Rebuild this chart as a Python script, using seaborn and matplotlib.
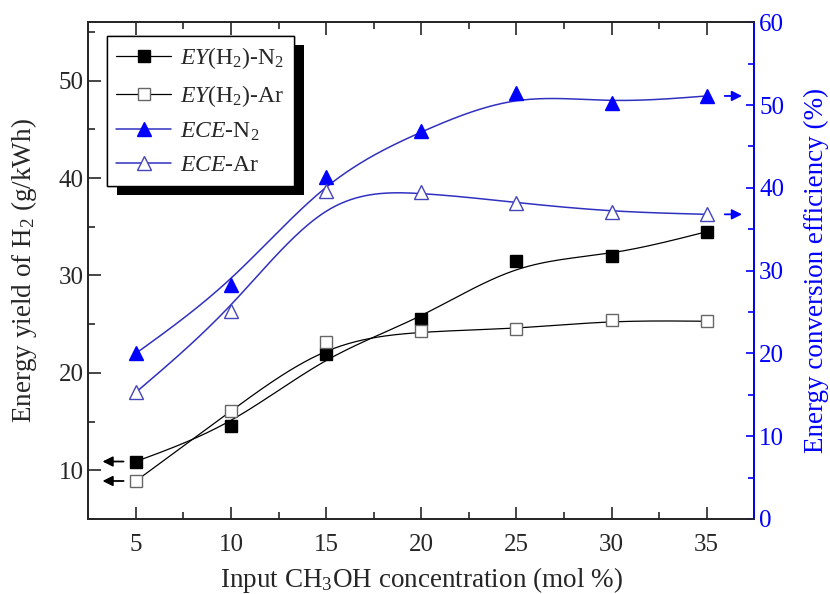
import numpy as np
import matplotlib
matplotlib.use("Agg")
import matplotlib.pyplot as plt
import matplotlib.patheffects as pe
from matplotlib.lines import Line2D
from matplotlib.ticker import MultipleLocator
import seaborn as sns

# values
conc = [5, 10, 15, 20, 25, 30, 35]
ey_n2 = [10.9, 14.5, 21.9, 25.5, 31.5, 32.0, 34.5]
ey_ar = [8.9, 16.1, 23.2, 24.3, 24.5, 25.4, 25.3]
ece_n2 = [20.0, 28.3, 41.3, 46.9, 51.5, 50.2, 51.1]
ece_ar = [15.3, 25.1, 39.6, 39.5, 38.2, 37.1, 36.8]

BLUE = "#0000ff"
BLUE_LINE = "#3030c0"


def bspline(x, y, n=40):
    """uniform cubic B-spline through the end points (Origin style smoothing)"""
    p = np.column_stack([x, y]).astype(float)
    p = np.vstack([2 * p[0] - p[1], p, 2 * p[-1] - p[-2]])
    t = np.linspace(0, 1, n)
    b = [(1 - t) ** 3 / 6,
         (3 * t ** 3 - 6 * t ** 2 + 4) / 6,
         (-3 * t ** 3 + 3 * t ** 2 + 3 * t + 1) / 6,
         t ** 3 / 6]
    segs = [sum(np.outer(b[k], p[i + k]) for k in range(4)) for i in range(len(p) - 3)]
    out = np.vstack(segs)
    return out[:, 0], out[:, 1]


sns.set_style("ticks")
plt.rcParams["font.family"] = ["Liberation Serif", "DejaVu Serif"]
plt.rcParams["mathtext.fontset"] = "custom"
plt.rcParams["mathtext.rm"] = "Liberation Serif"
plt.rcParams["mathtext.it"] = "Liberation Serif:italic"

fig = plt.figure(figsize=(8.3, 5.94), dpi=100)
ax = fig.add_axes([0.1064, 0.1263, 0.8024, 0.8362])
ax2 = ax.twinx()

# energy yield (left)
for y, face in [(ey_n2, "black"), (ey_ar, "white")]:
    sx, sy = bspline(conc, y)
    sns.lineplot(x=sx, y=sy, ax=ax, sort=False, color="black", lw=0.9, estimator=None)
    ax.plot(conc, y, ls="none", marker="s", ms=8, mfc=face,
            mec="black" if face == "black" else "#666666", mew=1, zorder=5)

# energy conversion efficiency (right)
for y, face in [(ece_n2, BLUE), (ece_ar, "white")]:
    sx, sy = bspline(conc, y)
    sns.lineplot(x=sx, y=sy, ax=ax2, sort=False, color=BLUE_LINE, lw=1.1, estimator=None)
    ax2.plot(conc, y, ls="none", marker="^", ms=10, mfc=face,
             mec=BLUE if face == BLUE else "#4444bb", mew=1, zorder=5)

ax.set_xlim(2.5, 37.5)
ax.set_ylim(5, 56)
ax2.set_ylim(0, 60)

ax.xaxis.set_major_locator(MultipleLocator(5))
ax.xaxis.set_minor_locator(MultipleLocator(2.5))
ax.yaxis.set_major_locator(MultipleLocator(10))
ax.yaxis.set_minor_locator(MultipleLocator(5))
ax2.yaxis.set_major_locator(MultipleLocator(10))
ax2.yaxis.set_minor_locator(MultipleLocator(5))

ax.tick_params(axis="x", which="both", direction="in", top=True, labelsize=18, pad=11)
ax.tick_params(axis="y", which="both", direction="in", right=False, labelsize=18)
ax.tick_params(which="major", length=9, width=1.2)
ax.tick_params(which="minor", length=5, width=1.2)
ax2.tick_params(axis="y", which="both", direction="in", colors=BLUE, labelsize=18, width=1.2)
ax2.tick_params(which="major", length=6)
ax2.tick_params(which="minor", length=4)

for s in ax.spines.values():
    s.set_linewidth(1.3)
for s in ax2.spines.values():
    s.set_linewidth(1.3)
ax2.spines["right"].set_color(BLUE)

ax.set_xlabel("Input CH$_3$OH concentration (mol %)", fontsize=19.5, labelpad=6)
ax.set_ylabel("Energy yield of H$_2$ (g/kWh)", fontsize=19.5, labelpad=14)
ax2.set_ylabel("Energy conversion efficiency (%)", fontsize=19.5, color=BLUE, labelpad=14)

# arrows pointing to the matching axis
arrow_k = dict(arrowstyle="-|>", color="black", lw=1.3, mutation_scale=15)
for y in (ey_n2[0], ey_ar[0]):
    ax.annotate("", xy=(3.1, y), xytext=(4.5, y), arrowprops=arrow_k)
arrow_b = dict(arrowstyle="-|>", color=BLUE, lw=1.3, mutation_scale=15)
for y in (ece_n2[-1], ece_ar[-1]):
    ax2.annotate("", xy=(37.0, y), xytext=(35.8, y), arrowprops=arrow_b)

handles = [
    Line2D([], [], color="black", lw=0.9, marker="s", ms=8, mfc="black", mec="black"),
    Line2D([], [], color="black", lw=0.9, marker="s", ms=8, mfc="white", mec="#666666"),
    Line2D([], [], color=BLUE_LINE, lw=1.1, marker="^", ms=10, mfc=BLUE, mec=BLUE),
    Line2D([], [], color=BLUE_LINE, lw=1.1, marker="^", ms=10, mfc="white", mec="#4444bb"),
]
labels = [r"$\mathit{EY}$(H$_2$)-N$_2$", r"$\mathit{EY}$(H$_2$)-Ar",
          r"$\mathit{ECE}$-N$_2$", r"$\mathit{ECE}$-Ar"]
leg = ax2.legend(handles, labels, loc="upper left", bbox_to_anchor=(0.028, 0.973),
                 borderaxespad=0, fontsize=17, frameon=True, fancybox=False, framealpha=1,
                 edgecolor="black", handlelength=2.3, labelspacing=0.5,
                 borderpad=0.4, handletextpad=0.4)
leg.get_frame().set_linewidth(1.0)
leg.get_frame().set_path_effects([pe.withSimplePatchShadow(offset=(7, -7), shadow_rgbFace="black", alpha=1),
                                  pe.Normal()])

fig.savefig("out.png", dpi=100)
